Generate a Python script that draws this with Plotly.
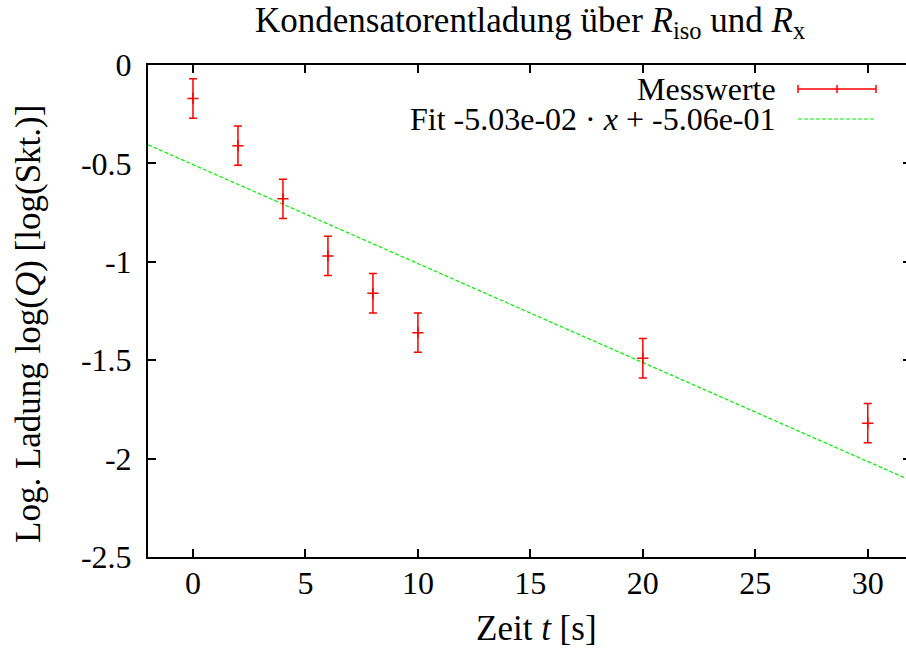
import plotly.graph_objects as go

# ---- data ----
t_values = [0, 2, 4, 6, 8, 10, 20, 30]
logq_values = [-0.17, -0.41, -0.68, -0.97, -1.16, -1.36, -1.49, -1.82]
logq_errors = [0.1, 0.1, 0.1, 0.1, 0.1, 0.1, 0.1, 0.1]

fit_slope = -5.03e-02
fit_intercept = -5.06e-01
fit_x = [-2, 32]

x_tick_vals = [0, 5, 10, 15, 20, 25, 30]
x_tick_text = ["0", "5", "10", "15", "20", "25", "30"]
y_tick_vals = [0, -0.5, -1, -1.5, -2, -2.5]
y_tick_text = ["0", "-0.5", "-1", "-1.5", "-2", "-2.5"]

title_text = "Kondensatorentladung über <i>R</i><sub>iso</sub> und <i>R</i><sub>x</sub>"
x_label = "Zeit <i>t</i> [s]"
y_label = "Log. Ladung log(<i>Q</i>) [log(Skt.)]"
legend_meas = "Messwerte"
legend_fit = "Fit -5.03e-02 · <i>x</i> + -5.06e-01"

FONT = "Liberation Serif"
FS = 32
FS_LABEL = 35
RED = "#ff0000"
GREEN = "#00ee00"

fit_y = [fit_slope * x + fit_intercept for x in fit_x]

fig = go.Figure()
fig.add_trace(go.Scatter(
    x=fit_x, y=fit_y, mode="lines",
    line=dict(color=GREEN, width=1.2, dash="4px,2px"),
    showlegend=False, hoverinfo="skip",
))
fig.add_trace(go.Scatter(
    x=t_values, y=logq_values, mode="markers",
    marker=dict(symbol="cross-thin", size=8, color=RED, line=dict(color=RED, width=1.5)),
    error_y=dict(type="data", array=logq_errors, visible=True, color=RED, thickness=1.5, width=4),
    showlegend=False,
))
# invisible trace on right axis for mirrored inside ticks
fig.add_trace(go.Scatter(x=[t_values[0]], y=[logq_values[0]], yaxis="y2",
                         mode="markers", marker=dict(opacity=0), showlegend=False, hoverinfo="skip"))

W, H = 906, 648
L, R, T, B = 148, 0, 65, 91
pw, ph = W - L - R, H - T - B

def px(xp):
    return (xp - L) / pw

def py(yp):
    return (H - B - yp) / ph

shapes = []
# legend sample: error bar
x0, x1, xm = px(798), px(876), px(837)
ym = py(89)
cap = 4 / ph
shapes.append(dict(type="line", xref="paper", yref="paper", x0=x0, x1=x1, y0=ym, y1=ym,
                   line=dict(color=RED, width=1.5)))
for xx in (x0, x1, xm):
    shapes.append(dict(type="line", xref="paper", yref="paper", x0=xx, x1=xx, y0=ym - cap, y1=ym + cap,
                       line=dict(color=RED, width=1.5)))
yf = py(119)
shapes.append(dict(type="line", xref="paper", yref="paper", x0=x0, x1=x1, y0=yf, y1=yf,
                   line=dict(color=GREEN, width=1.2, dash="4px,2px")))

annotations = [
    dict(text=legend_meas, xref="paper", yref="paper", x=px(778), y=py(89),
         xanchor="right", yanchor="middle", showarrow=False, font=dict(family=FONT, size=FS, color="black")),
    dict(text=legend_fit, xref="paper", yref="paper", x=px(778), y=py(119),
         xanchor="right", yanchor="middle", showarrow=False, font=dict(family=FONT, size=FS, color="black")),
    dict(text=title_text, xref="x", yref="paper", x=15, y=py(22),
         xanchor="center", yanchor="middle", showarrow=False, font=dict(family=FONT, size=FS_LABEL, color="black")),
    dict(text=x_label, xref="x", yref="paper", x=15.26, y=py(628),
         xanchor="center", yanchor="middle", showarrow=False, font=dict(family=FONT, size=FS_LABEL, color="black")),
    dict(text=y_label, xref="paper", yref="paper", x=px(28), y=py(324), textangle=-90,
         xanchor="center", yanchor="middle", showarrow=False, font=dict(family=FONT, size=FS_LABEL, color="black")),
]

fig.update_layout(
    width=W, height=H,
    margin=dict(l=L, r=R, t=T, b=B, pad=0),
    plot_bgcolor="white", paper_bgcolor="white",
    font=dict(family=FONT, size=FS, color="black"),
    showlegend=False,
    shapes=shapes,
    annotations=annotations,
    xaxis=dict(range=[-2, 31.7], tickvals=x_tick_vals, ticktext=x_tick_text,
               ticks="inside", ticklen=8, tickwidth=1.5, tickcolor="black",
               showline=True, linecolor="black", linewidth=2, mirror="ticks",
               showgrid=False, zeroline=False, ticklabelstandoff=-3),
    yaxis=dict(range=[-2.5, 0], tickvals=y_tick_vals, ticktext=y_tick_text,
               ticks="inside", ticklen=8, tickwidth=1.5, tickcolor="black",
               showline=True, linecolor="black", linewidth=2, mirror=False,
               showgrid=False, zeroline=False, ticklabelstandoff=8),
    yaxis2=dict(range=[-2.5, 0], overlaying="y", side="right", tickvals=y_tick_vals,
                showticklabels=False, ticks="inside", ticklen=3, tickwidth=1.5, tickcolor="black",
                showline=False, showgrid=False, zeroline=False),
)

fig.write_html("out.html", config={"displayModeBar": False},
               post_script="document.body.style.margin='0';document.body.style.overflow='hidden';")
